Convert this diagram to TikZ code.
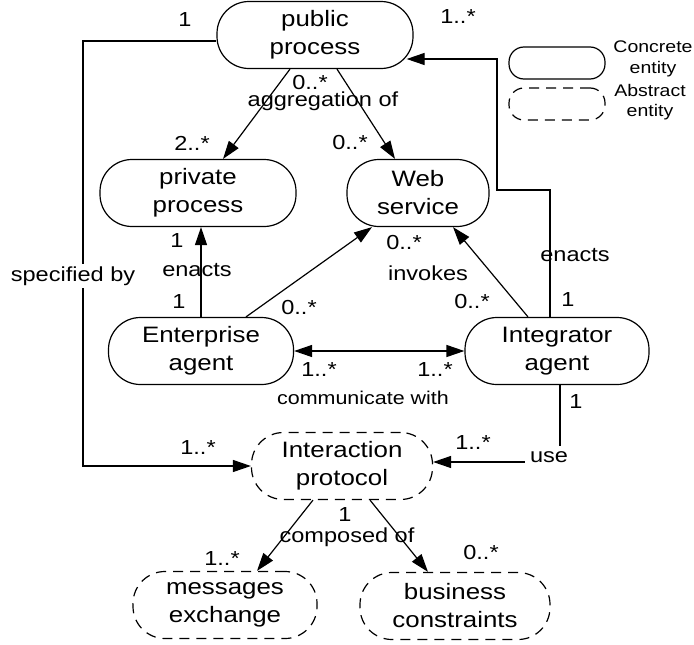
\documentclass[tikz,border=0pt]{standalone}
\usepackage{fontspec}
\setmainfont[FakeStretch=1.16]{Liberation Sans}
\usetikzlibrary{arrows.meta}

\begin{document}
\begin{tikzpicture}[
        x=1pt, y=-1pt,
        line width=1.2pt,
        >={Triangle[length=18pt, width=12pt]},
        concrete/.style={rectangle, draw, rounded corners=32pt, minimum height=67pt, inner sep=0pt, align=center, font=\fontsize{22.3}{28}\selectfont},
        abstract/.style={concrete, dash pattern=on 10pt off 7pt},
        keybox/.style={minimum width=96pt, minimum height=32pt, rounded corners=15pt},
        lbl/.style={inner sep=1pt, font=\fontsize{20.3}{24}\selectfont},
        small/.style={lbl, font=\fontsize{18.5}{22}\selectfont},
        keytext/.style={align=center, inner sep=0pt, font=\fontsize{16.8}{20.5}\selectfont}
    ]
    \useasboundingbox (0,0) rectangle (694,645);

    % entities
    \node[concrete, minimum width=196pt] (pub) at (315,35) {public\\process};
    \node[concrete, minimum width=196pt] (priv) at (198,193) {private\\process};
    \node[concrete, minimum width=142pt] (web) at (418,193) {Web\\service};
    \node[concrete, minimum width=185pt] (ent) at (201,351) {Enterprise\\agent};
    \node[concrete, minimum width=184pt] (integ) at (557,351) {Integrator\\agent};
    \node[abstract, minimum width=181pt] (proto) at (342,466) {Interaction\\protocol};
    \node[abstract, minimum width=184pt] (msg) at (225,605) {messages\\exchange};
    \node[abstract, minimum width=190pt] (biz) at (455,606) {business\\constraints};

    % legend
    \node[concrete, keybox] (keyconc) at (557,63) {};
    \node[abstract, keybox] (keyabs) at (557,104) {};
    \node[keytext] (keyconctext) at (653,59) {Concrete\\entity};
    \node[keytext] (keyabstext) at (650,102) {Abstract\\entity};

    % relations
    \draw[->] ([xshift=-25pt]pub.south) -- ([xshift=25pt]priv.north);
    \draw[->] ([xshift=22pt]pub.south) -- ([xshift=-23pt]web.north);
    \draw[->] (ent.north) -- (ent.north |- priv.south);
    \draw[->] ([xshift=45pt]ent.north) -- ([xshift=-46pt]web.south);
    \draw[->] ([xshift=-29pt]integ.north) -- ([xshift=35pt]web.south);
    \coordinate (enactsbend) at (497,190);
    \draw[->] ([xshift=-7pt]integ.north) |- (enactsbend) |- ([xshift=-7pt, yshift=-24pt]pub.east);
    \draw[<->] (ent.east) -- (integ.west);
    \coordinate (specx) at (83,0);
    \draw[->] ([yshift=-6pt]pub.west) -| (specx |- proto.west) -- (proto.west);
    \draw[->] ([xshift=3pt]integ.south) |- node[lbl, fill=white, inner sep=5pt, xshift=-11pt, yshift=5pt] (usetxt) {use} ([yshift=4pt]proto.east);
    \draw[->] ([xshift=-29pt]proto.south) -- ([xshift=32pt]msg.north);
    \draw[->] ([xshift=28pt]proto.south) -- ([xshift=-27pt]biz.north);

    % multiplicities and names
    \node[lbl] (pubone) at (185,20) {1};
    \node[lbl] (pubmany) at (458,17) {1..*};
    \node[lbl] (aggsrc) at (310,83) {0..*};
    \node[lbl] (aggname) at (323,101) {aggregation of};
    \node[lbl] (aggpriv) at (192,143) {2..*};
    \node[lbl] (aggweb) at (350,143) {0..*};
    \node[lbl] (entenactsdst) at (177,241) {1};
    \node[lbl] (entenacts) at (197,270) {enacts};
    \node[lbl] (entenactssrc) at (179,302) {1};
    \node[lbl] (entinvokes) at (299,308) {0..*};
    \node[lbl] (webinvoked) at (404,243) {0..*};
    \node[lbl] (invokes) at (428,273) {invokes};
    \node[lbl] (integinvokes) at (472,302) {0..*};
    \node[lbl] (integenacts) at (575,255) {enacts};
    \node[lbl] (integenactssrc) at (568,300) {1};
    \node[lbl] (commleft) at (319,370) {1..*};
    \node[lbl] (commright) at (435,370) {1..*};
    \node[small] (comm) at (363,398) {communicate with};
    \node[lbl] (integuse) at (576,402) {1};
    \node[lbl] (protouse) at (473,443) {1..*};
    \node[lbl] (protospec) at (198,448) {1..*};
    \node[lbl, fill=white, inner sep=3pt] (specby) at (73,276) {specified by};
    \node[lbl] (compsrc) at (345,515) {1};
    \node[lbl] (compname) at (347,537) {composed of};
    \node[lbl] (compmsg) at (222,559) {1..*};
    \node[lbl] (compbiz) at (481,553) {0..*};
\end{tikzpicture}
\end{document}
